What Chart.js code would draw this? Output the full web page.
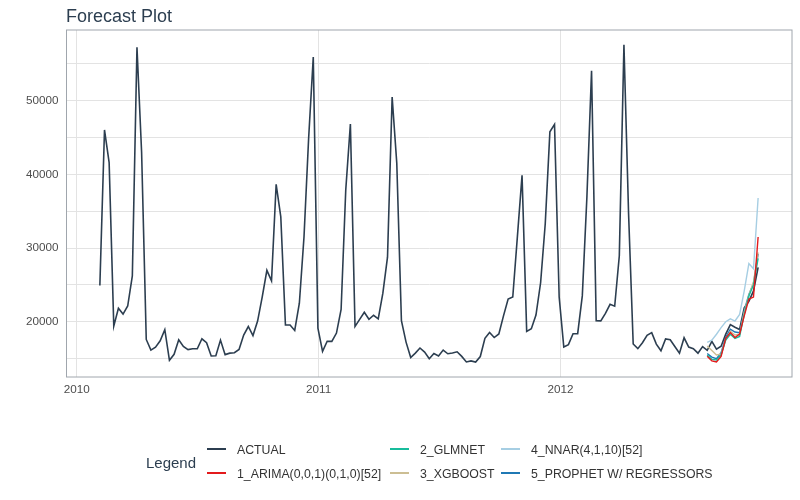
<!DOCTYPE html>
<html>
<head>
<meta charset="utf-8">
<script src="https://cdn.jsdelivr.net/npm/chart.js@4.4.1/dist/chart.umd.min.js"></script>
<style>
    body { margin: 0; background: #fff; font-family: "Liberation Sans", Arial, sans-serif; }
    #wrap { position: relative; width: 800px; height: 500px; }
    #chart { position: absolute; left: 0; top: 0; }
    .title { position: absolute; left: 66px; top: 6px; font-size: 18px; color: #2c3e50; white-space: nowrap; }
    .legend-title { position: absolute; left: 146px; top: 453.5px; font-size: 15px; color: #2c3e50; }
    .item { position: absolute; font-size: 12.3px; color: #333; white-space: nowrap; }
    .item span { position: absolute; left: -30px; top: 5px; width: 19px; height: 2px; }
</style>
</head>
<body>
<div id="wrap">
    <canvas id="chart" width="800" height="500"></canvas>
    <div class="title">Forecast Plot</div>
    <div class="legend-title">Legend</div>
    <div id="legend"></div>
</div>
<script>
// Weekly sales, first week 2010-02-05
const startDate = Date.UTC(2010, 1, 5);
const actualSales = [
    24924.50, 46039.49, 41595.55, 19403.54, 21827.90, 21043.39, 22136.64, 26229.21, 57258.43, 42960.91,
    17596.96, 16145.35, 16555.11, 17413.94, 18926.74, 14773.04, 15580.43, 17558.09, 16637.62, 16216.27,
    16328.72, 16333.14, 17688.76, 17150.84, 15360.45, 15381.82, 17508.41, 15536.40, 15740.13, 15793.87,
    16241.78, 18194.74, 19354.23, 18122.52, 20094.19, 23388.03, 26978.34, 25543.04, 38640.93, 34238.88,
    19549.39, 19552.84, 18820.29, 22517.56, 31497.65, 44912.86, 55931.23, 19124.58, 15984.24, 17359.70,
    17341.47, 18461.18, 21665.76, 37887.17, 46845.87, 19363.83, 20327.61, 21280.40, 20334.23, 20881.10,
    20398.09, 23873.79, 28762.37, 50510.31, 41512.39, 20138.19, 17235.15, 15136.78, 15741.60, 16434.15,
    15883.52, 14978.09, 15682.81, 15363.50, 16148.87, 15654.85, 15766.60, 15922.41, 15295.55, 14539.79,
    14689.24, 14537.37, 15277.27, 17746.68, 18535.48, 17859.30, 18337.68, 20797.58, 23077.55, 23351.80,
    31579.90, 39886.06, 18689.54, 19050.66, 20911.25, 25293.49, 33305.92, 45773.03, 46788.75, 23350.88,
    16567.69, 16894.40, 18365.10, 18378.16, 23510.49, 36988.49, 54060.10, 20124.22, 20113.03, 21140.07,
    22366.88, 22107.70, 28952.86, 57592.12, 34684.21, 16976.19, 16347.60, 17147.44, 18164.20, 18517.79,
    16963.55, 16065.49, 17666.00, 17558.82, 16633.41, 15722.82, 17823.37, 16566.18, 16348.06, 15731.18,
    16628.31, 16119.92, 17330.70, 16286.40, 16680.24, 18322.37, 19616.22, 19251.50, 18947.81, 21904.47,
    22764.01, 24185.27, 27390.81
];

// Forecasts for the last 12 weeks
const arimaFc   = [15300, 14690, 14540, 15280, 17750, 18540, 17860, 18340, 20800, 23080, 23350, 31500];
const glmnetFc  = [15500, 14900, 14800, 15500, 17500, 18300, 17750, 18000, 21000, 23500, 25000, 28600];
const xgboostFc = [16700, 16100, 15500, 15600, 17600, 18700, 18200, 18300, 21300, 23600, 25400, 29400];
const nnarFc    = [17200, 17500, 18300, 19200, 20000, 20400, 20100, 21000, 24200, 27900, 27200, 36800];
const prophetFc = [15700, 15200, 15000, 15800, 17900, 19000, 18600, 18500, 21500, 23700, 25200, 29200];

const seriesNames = ['ACTUAL', '1_ARIMA(0,0,1)(0,1,0)[52]', '2_GLMNET', '3_XGBOOST', '4_NNAR(4,1,10)[52]', '5_PROPHET W/ REGRESSORS'];
const seriesColors = ['#2c3e50', '#e31a1c', '#18bc9c', '#ccbe93', '#a6cee3', '#1f78b4'];

const yTicks = [15000, 20000, 25000, 30000, 35000, 40000, 45000, 50000, 55000];
const xTicks = [2010, 2011, 2012];

// date (ms) -> decimal year
function toYear(ms) {
    const d = new Date(ms);
    const y = d.getUTCFullYear();
    const a = Date.UTC(y, 0, 1), b = Date.UTC(y + 1, 0, 1);
    return y + (ms - a) / (b - a);
}

const weekX = actualSales.map((_, i) => toYear(startDate + i * 7 * 86400000));
const fcStart = actualSales.length - arimaFc.length;

function toPoints(values, offset) {
    return values.map((v, i) => ({ x: weekX[offset + i], y: v }));
}

const allSeries = [actualSales, arimaFc, glmnetFc, xgboostFc, nnarFc, prophetFc];

const datasets = allSeries.map((vals, k) => ({
    label: seriesNames[k],
    data: toPoints(vals, k === 0 ? 0 : fcStart),
    borderColor: seriesColors[k],
    borderWidth: k === 0 ? 1.6 : 1.4,
    pointRadius: 0,
    tension: 0,
    order: k === 0 ? 10 : k
}));

// panel border like ggplot
const panelBorder = {
    id: 'panelBorder',
    afterDraw(chart) {
        const { ctx, chartArea: a } = chart;
        ctx.save();
        ctx.strokeStyle = '#a0a6ad';
        ctx.lineWidth = 1;
        ctx.strokeRect(a.left, a.top, a.right - a.left, a.bottom - a.top);
        ctx.restore();
    }
};

new Chart(document.getElementById('chart'), {
    type: 'line',
    data: { datasets: datasets },
    options: {
        responsive: false,
        animation: false,
        layout: { padding: { top: 30, right: 8, bottom: 101, left: 0 } },
        plugins: {
            legend: { display: false },
            tooltip: { enabled: false }
        },
        scales: {
            x: {
                type: 'linear',
                min: 2009.958,
                max: 2012.957,
                afterFit: (s) => { s.height = 22; },
                afterBuildTicks: (s) => { s.ticks = xTicks.map(v => ({ value: v })); },
                grid: { color: '#e3e3e3', drawTicks: false },
                border: { display: false },
                ticks: {
                    padding: 6,
                    color: '#4d4d4d',
                    font: { family: '"Liberation Sans", Arial, sans-serif', size: 11.7 },
                    callback: (v) => String(v)
                }
            },
            y: {
                min: 12500,
                max: 59600,
                afterFit: (s) => { s.width = 66.5; },
                afterBuildTicks: (s) => { s.ticks = yTicks.map(v => ({ value: v })); },
                grid: { color: '#e3e3e3', drawTicks: false },
                border: { display: false },
                ticks: {
                    padding: 8,
                    color: '#4d4d4d',
                    font: { family: '"Liberation Sans", Arial, sans-serif', size: 11.7 },
                    callback: (v) => (v % 10000 === 0 ? String(v) : '')
                }
            }
        }
    },
    plugins: [panelBorder]
});

// legend, two rows filled column by column
const legendCols = [237, 420, 531];
const legendRows = [443, 467];
const legendEl = document.getElementById('legend');
seriesNames.forEach((name, i) => {
    const div = document.createElement('div');
    div.className = 'item';
    div.style.left = legendCols[Math.floor(i / 2)] + 'px';
    div.style.top = legendRows[i % 2] + 'px';
    div.innerHTML = '<span style="background:' + seriesColors[i] + '"></span>' + name;
    legendEl.appendChild(div);
});
</script>
</body>
</html>
